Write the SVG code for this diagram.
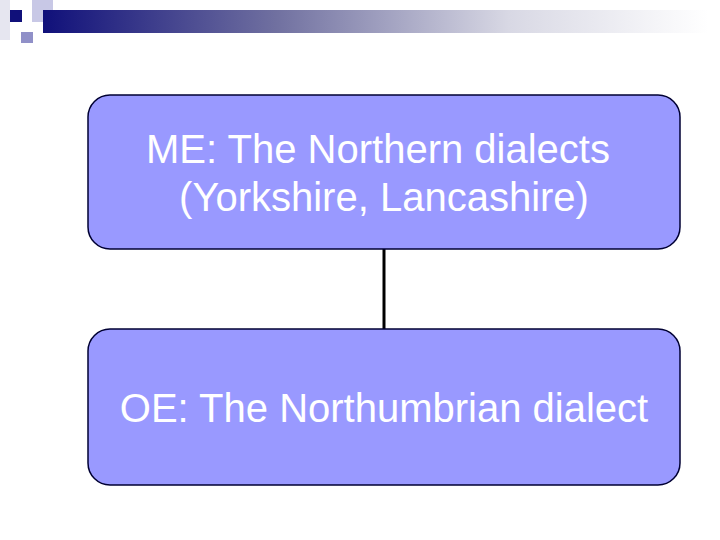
<svg xmlns="http://www.w3.org/2000/svg" width="720" height="540" viewBox="0 0 720 540">
<defs>
<linearGradient id="bar" x1="0" y1="0" x2="1" y2="0">
<stop offset="0" stop-color="#10107a"/>
<stop offset="0.35" stop-color="#7070a0"/>
<stop offset="0.7" stop-color="#d8d8e4"/>
<stop offset="1" stop-color="#ffffff"/>
</linearGradient>
<style>
.box{fill:#9999ff;stroke:#000033;stroke-width:1.5}
.t{font-family:"Liberation Sans",Arial,sans-serif;font-size:40px;fill:#ffffff;text-anchor:middle}
.conn{stroke:#000000;stroke-width:3;fill:none}
</style>
</defs>
<rect width="720" height="540" fill="#ffffff"/>
<g id="decoration">
<rect x="0" y="0" width="10" height="40" fill="#e6e6f0"/>
<rect x="32" y="0" width="21" height="22" fill="#c8c8e6"/>
<rect x="43" y="10" width="665" height="23" fill="url(#bar)"/>
<rect x="10" y="10" width="12" height="12" fill="#10107a"/>
<rect x="21" y="32" width="12" height="11" fill="#9090c8"/>
</g>
<g id="connectors">
<line class="conn" x1="384" y1="249" x2="384" y2="329"/>
</g>
<g id="node-me">
<rect class="box" x="88" y="95" width="592" height="154" rx="22" ry="22"/>
<text class="t" x="378" y="163">ME: The Northern dialects</text>
<text class="t" x="384" y="211">(Yorkshire, Lancashire)</text>
</g>
<g id="node-oe">
<rect class="box" x="88" y="329" width="592" height="156" rx="22" ry="22"/>
<text class="t" x="384" y="422">OE: The Northumbrian dialect</text>
</g>
</svg>
